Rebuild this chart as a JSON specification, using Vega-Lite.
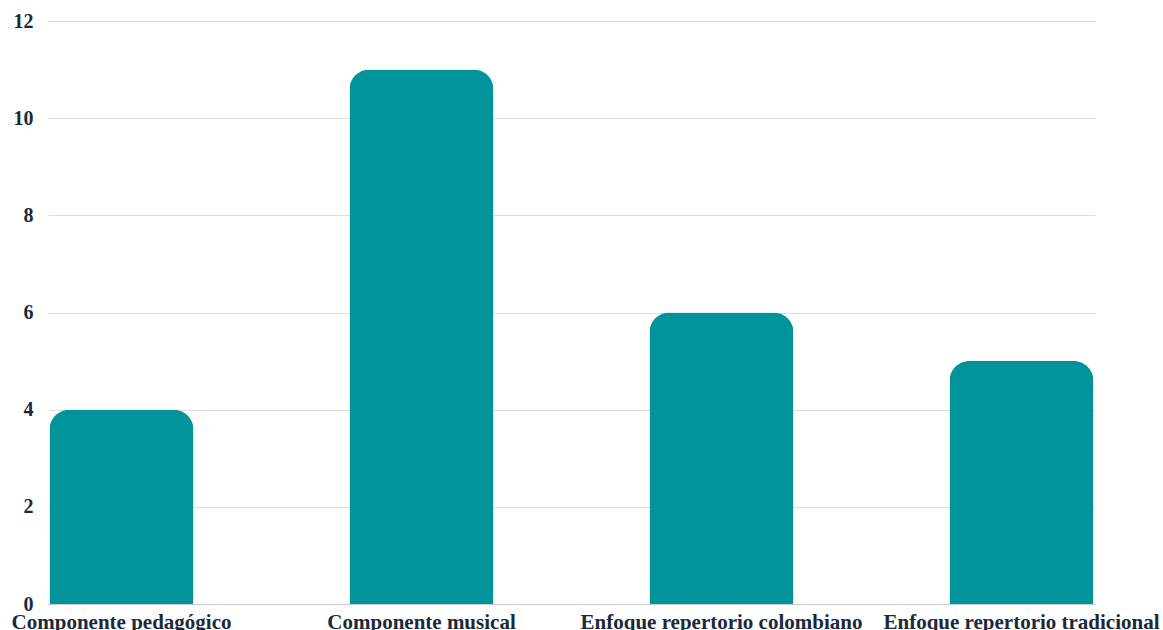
{
  "$schema": "https://vega.github.io/schema/vega-lite/v6.json",
  "width": 1047,
  "height": 583,
  "autosize": {"type": "none"},
  "padding": {"left": 48, "top": 21, "right": 68, "bottom": 26},
  "background": "white",
  "data": {"values": [
    {"categoria": "Componente pedagógico", "valor": 4},
    {"categoria": "Componente musical", "valor": 11},
    {"categoria": "Enfoque repertorio colombiano", "valor": 6},
    {"categoria": "Enfoque repertorio tradicional", "valor": 5}
  ]},
  "mark": {"type": "bar", "color": "#00939a", "cornerRadiusTopLeft": 20, "cornerRadiusTopRight": 20},
  "encoding": {
    "x": {
      "field": "categoria", "type": "nominal", "sort": null,
      "scale": {"paddingInner": 0.52, "paddingOuter": 0.005},
      "axis": {
        "title": null, "labelAngle": 0, "ticks": false,
        "domain": true, "domainColor": "#c5cdd0", "domainWidth": 1,
        "labelFont": "Liberation Serif", "labelFontWeight": "bold", "labelFontSize": 21,
        "labelColor": "#1b2a3a", "labelPadding": 7, "labelLimit": 0, "labelOverlap": false
      }
    },
    "y": {
      "field": "valor", "type": "quantitative",
      "scale": {"domain": [0, 12], "nice": false},
      "axis": {
        "title": null, "values": [0, 2, 4, 6, 8, 10, 12],
        "domain": false, "ticks": false,
        "grid": true, "gridColor": "#dcdfe0", "gridWidth": 1,
        "labelFont": "Liberation Serif", "labelFontWeight": "bold", "labelFontSize": 20,
        "labelColor": "#1b2a3a", "labelPadding": 15
      }
    }
  },
  "config": {"view": {"stroke": null}}
}
